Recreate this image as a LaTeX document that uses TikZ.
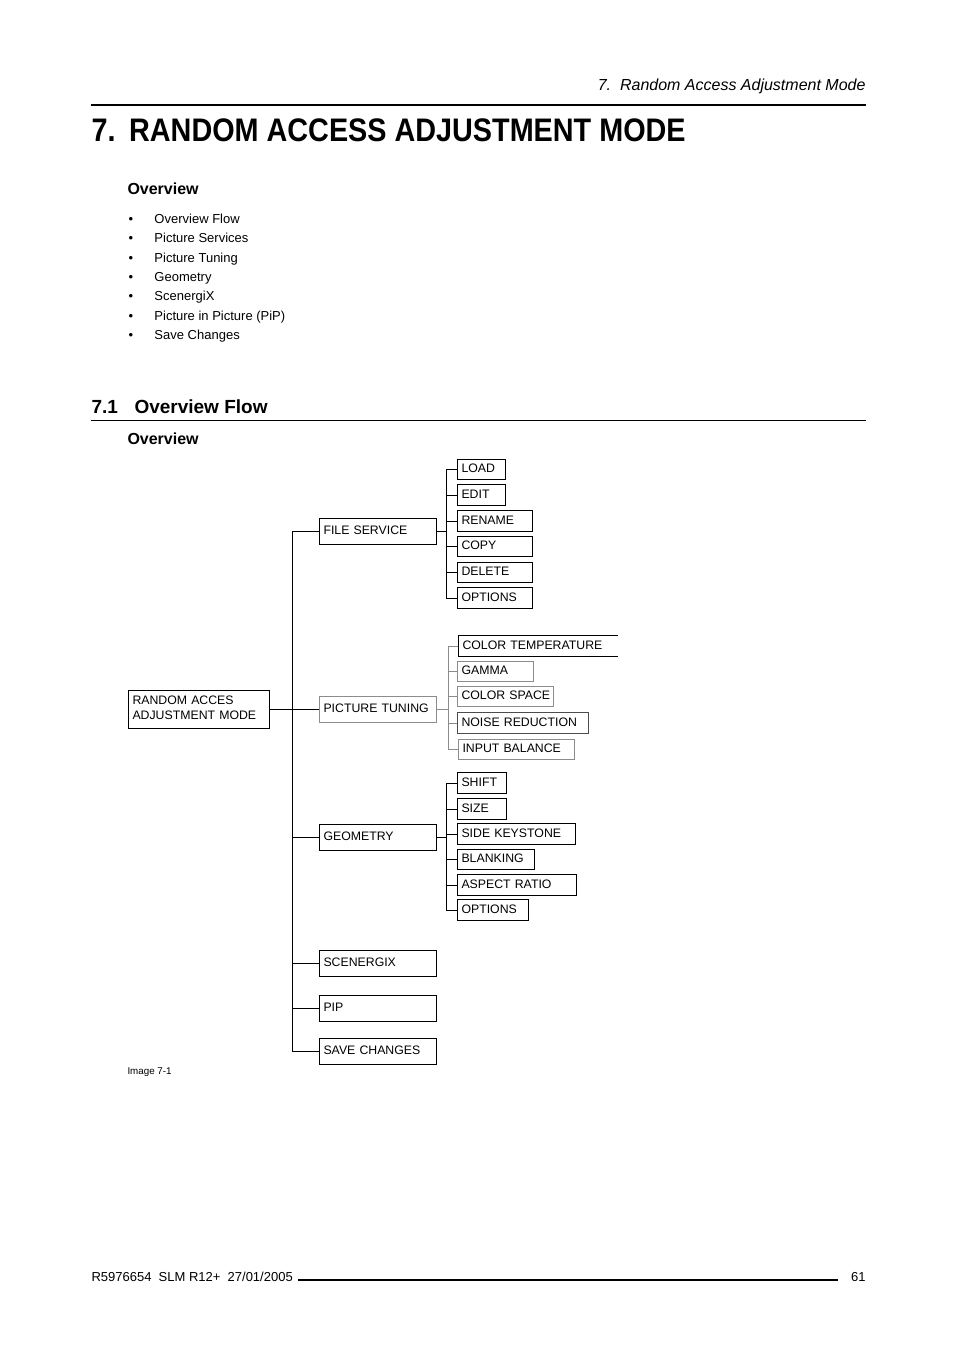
\documentclass[tikz,border=0pt]{standalone}
\usepackage{fontspec}
\setmainfont{Liberation Sans}
\newfontfamily\titlefont[FakeStretch=0.883]{Liberation Sans}
\newcommand{\diagfont}{\fontsize{12.3}{15}\selectfont}
\newcommand{\bodyfont}{\fontsize{13}{15}\selectfont}
\newcommand{\itembox}[1]{\makebox[26pt][l]{\textbullet}#1}

\begin{document}
\begin{tikzpicture}[x=1pt,y=-1pt,line width=1pt,
  menu node/.style={draw,anchor=west,font=\diagfont,inner xsep=4pt,inner ysep=7pt,
    text height=9pt,text depth=3pt,text width=109pt,align=left},
  leaf node/.style={draw,anchor=west,font=\diagfont,inner xsep=4pt,inner ysep=4.3pt,
    text height=9pt,text depth=3pt,align=left},
  page text/.style={anchor=base west,inner sep=0pt,font=\bodyfont},
  faint/.style={draw=black!45}]
  \useasboundingbox (0,0) rectangle (954,1351);
  \fill[white] (0,0) rectangle (954,1351);

  % page head
  \node[anchor=base east,inner sep=0pt,font=\fontsize{16}{18}\selectfont\itshape] (head) at (866,90.5) {7.\ \ Random Access Adjustment Mode};
  \draw[line width=2.5pt] (91,105) -- (866,105);
  \node[page text,font=\titlefont\bfseries\fontsize{32.6}{36}\selectfont] (title) at (91,141.7) {7.\hspace{3pt} RANDOM ACCESS ADJUSTMENT MODE};

  % overview list
  \node[page text,font=\bfseries\fontsize{16}{18}\selectfont] (ov) at (127,195) {Overview};
  \node[page text] (i1) at (128,223) {\itembox{Overview Flow}};
  \node[page text] (i2) at (128,242.5) {\itembox{Picture Services}};
  \node[page text] (i3) at (128,262) {\itembox{Picture Tuning}};
  \node[page text] (i4) at (128,281) {\itembox{Geometry}};
  \node[page text] (i5) at (128,300.5) {\itembox{ScenergiX}};
  \node[page text] (i6) at (128,320) {\itembox{Picture in Picture (PiP)}};
  \node[page text] (i7) at (128,339) {\itembox{Save Changes}};

  % section
  \node[page text,font=\bfseries\fontsize{19}{22}\selectfont] (secnum) at (91,413) {7.1};
  \node[page text,font=\bfseries\fontsize{19}{22}\selectfont] (sec) at (134,413) {Overview Flow};
  \draw (91,420.5) -- (866,420.5);
  \node[page text,font=\bfseries\fontsize{16}{18}\selectfont] (ov2) at (127,444) {Overview};

  % menu tree
  \node[menu node,text width=133pt,inner ysep=5.5pt,text depth=18pt] (root) at (128,709) {RANDOM ACCES\\ADJUSTMENT MODE};
  \node[menu node] (fs) at (319,531) {FILE SERVICE};
  \node[menu node,faint] (pt) at (319,709) {PICTURE TUNING};
  \node[menu node] (geo) at (319,837) {GEOMETRY};
  \node[menu node] (scx) at (319,963) {SCENERGIX};
  \node[menu node] (pip) at (319,1008) {PIP};
  \node[menu node] (sv) at (319,1051) {SAVE CHANGES};

  \node[leaf node,text width=40pt] (load) at (457,469.5) {LOAD};
  \node[leaf node,text width=40pt] (edit) at (457,495) {EDIT};
  \node[leaf node,text width=67pt] (ren) at (457,521) {RENAME};
  \node[leaf node,text width=67pt] (copy) at (457,546.5) {COPY};
  \node[leaf node,text width=67pt] (del) at (457,572.5) {DELETE};
  \node[leaf node,text width=67pt] (fsopt) at (457,598) {OPTIONS};

  \node[leaf node,draw=none,text width=151pt] (ct) at (458,646) {COLOR TEMPERATURE};
  \node[leaf node,faint,text width=68pt] (gam) at (457,671.5) {GAMMA};
  \node[leaf node,faint,text width=88pt] (cs) at (457,696.5) {COLOR~SPACE};
  \node[leaf node,draw=black!70,text width=123pt] (nr) at (457,723) {NOISE REDUCTION};
  \node[leaf node,faint,text width=108pt] (ib) at (458,749.5) {INPUT BALANCE};

  \node[leaf node,text width=41pt] (shift) at (457,783) {SHIFT};
  \node[leaf node,text width=41pt] (size) at (457,809) {SIZE};
  \node[leaf node,text width=110pt] (key) at (457,834) {SIDE KEYSTONE};
  \node[leaf node,text width=69pt] (blank) at (457,859.5) {BLANKING};
  \node[leaf node,text width=111pt] (asp) at (457,885) {ASPECT RATIO};
  \node[leaf node,text width=63pt] (geoopt) at (457,910) {OPTIONS};

  % open box round colour temperature
  \draw (ct.north east) -- (ct.north west) -- (ct.south west) -- (ct.south east);

  % connectors
  \draw (root.east) -- (pt.west);
  \draw (fs.west) -- ++(-27,0) coordinate (trunk) |- (sv.west);
  \draw (geo.west) -- (geo.west -| trunk);
  \draw (scx.west) -- (scx.west -| trunk);
  \draw (pip.west) -- (pip.west -| trunk);

  \draw (fs.east) -- ++(9.5,0) coordinate (fsj) |- (load.west);
  \draw (fsj) |- (edit.west);
  \draw (fsj) |- (ren.west);
  \draw (fsj) |- (copy.west);
  \draw (fsj) |- (del.west);
  \draw (fsj) |- (fsopt.west);

  \draw[black!45] (pt.east) -- ++(11,0) coordinate (ptj) |- (ct.west);
  \draw[black!45] (ptj) |- (gam.west);
  \draw[black!45] (ptj) |- (cs.west);
  \draw[black!45] (ptj) |- (nr.west);
  \draw[black!45] (ptj) |- (ib.west);

  \draw (geo.east) -- ++(9.5,0) coordinate (geoj) |- (shift.west);
  \draw (geoj) |- (size.west);
  \draw (geoj) |- (key.west);
  \draw (geoj) |- (blank.west);
  \draw (geoj) |- (asp.west);
  \draw (geoj) |- (geoopt.west);

  \node[page text,font=\fontsize{9.8}{11}\selectfont] (cap) at (127,1074.5) {Image 7-1};

  % page foot
  \node[page text] (foot) at (91,1281.5) {R5976654\ \ SLM R12+\ \ 27/01/2005};
  \draw[line width=2pt] (298,1280) -- (838,1280);
  \node[anchor=base east,inner sep=0pt,font=\bodyfont] (page) at (866,1281.5) {61};
\end{tikzpicture}
\end{document}
